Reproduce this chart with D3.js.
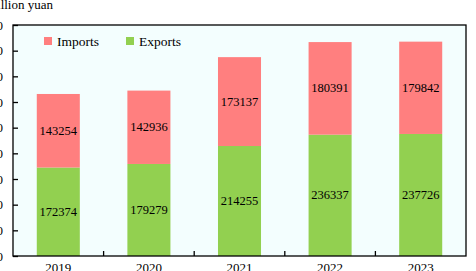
<!DOCTYPE html>
<html><head><meta charset="utf-8">
<script src="https://cdn.jsdelivr.net/npm/d3@7"></script>
<style>html,body{margin:0;padding:0;background:#fff;overflow:hidden}</style>
</head><body>
<svg id="c" width="476" height="271"></svg>
<script>
const years = ["2019","2020","2021","2022","2023"];
const exportsV = [172374,179279,214255,236337,237726];
const importsV = [143254,142936,173137,180391,179842];
const yTicks = [0,50000,100000,150000,200000,250000,300000,350000,400000,450000];
const unitLabel = "100 million yuan";
const seriesNames = ["Imports","Exports"];

const svg = d3.select("#c");
const font = "'Liberation Serif','Times New Roman',serif";
const L=13, R=466, T=25, B=256;
const x = d3.scaleBand().domain(years).range([L,R]).paddingInner(0.525).paddingOuter(0.2625);
const y = d3.scaleLinear().domain([0,450000]).range([B,T]);
const cExp="#92d050", cImp="#ff7f7f";

svg.append("rect").attr("x",L).attr("y",T).attr("width",R-L).attr("height",B-T).attr("fill","#f3fefe");

const data = years.map((yr,i)=>({yr,e:exportsV[i],im:importsV[i]}));
const g = svg.append("g");
g.selectAll(".e").data(data).join("rect").attr("x",d=>x(d.yr)).attr("width",x.bandwidth())
  .attr("y",d=>y(d.e)).attr("height",d=>y(0)-y(d.e)).attr("fill",cExp);
g.selectAll(".i").data(data).join("rect").attr("x",d=>x(d.yr)).attr("width",x.bandwidth())
  .attr("y",d=>y(d.e+d.im)).attr("height",d=>y(d.e)-y(d.e+d.im)).attr("fill",cImp);

g.selectAll(".el").data(data).join("text").attr("x",d=>x(d.yr)+x.bandwidth()/2).attr("y",d=>y(d.e/2)+4)
  .attr("text-anchor","middle").attr("font-family",font).attr("font-size",12.5).text(d=>d.e);
g.selectAll(".il").data(data).join("text").attr("x",d=>x(d.yr)+x.bandwidth()/2).attr("y",d=>y(d.e+d.im/2)+4)
  .attr("text-anchor","middle").attr("font-family",font).attr("font-size",12.5).text(d=>d.im);

// frame
svg.append("rect").attr("x",L).attr("y",T).attr("width",R-L).attr("height",B-T).attr("fill","none").attr("stroke","#000").attr("stroke-width",1.3);

// y axis
const ya = svg.append("g").attr("transform",`translate(${L},0)`).call(d3.axisLeft(y).tickValues(yTicks).tickSize(-5).tickPadding(10).tickFormat(d3.format("d")));
ya.select(".domain").remove();
ya.selectAll("line").attr("stroke","#000").attr("stroke-width",1.3);
ya.selectAll("text").attr("font-family",font).attr("font-size",13).attr("fill","#000");

// x axis: ticks between categories
const xa = svg.append("g").attr("transform",`translate(0,${B})`).call(d3.axisBottom(x).tickSize(0).tickPadding(7));
xa.select(".domain").remove();
xa.selectAll("text").attr("font-family",font).attr("font-size",13).attr("fill","#000");
const step = x.step();
svg.append("g").selectAll("line").data(years.slice(1)).join("line")
  .attr("x1",d=>x(d)-(step-x.bandwidth())/2).attr("x2",d=>x(d)-(step-x.bandwidth())/2)
  .attr("y1",B).attr("y2",B-5).attr("stroke","#000").attr("stroke-width",1.3);

svg.append("text").attr("x",53).attr("y",9).attr("text-anchor","end").attr("font-family",font).attr("font-size",13).text(unitLabel);

// legend
const leg = svg.append("g");
[[cImp,44,seriesNames[0]],[cExp,126,seriesNames[1]]].forEach(([c,lx,t])=>{
  leg.append("rect").attr("x",lx).attr("y",37).attr("width",8).attr("height",8).attr("fill",c);
  leg.append("text").attr("x",lx+13).attr("y",45.5).attr("font-family",font).attr("font-size",13.5).text(t);
});
</script>
</body></html>
